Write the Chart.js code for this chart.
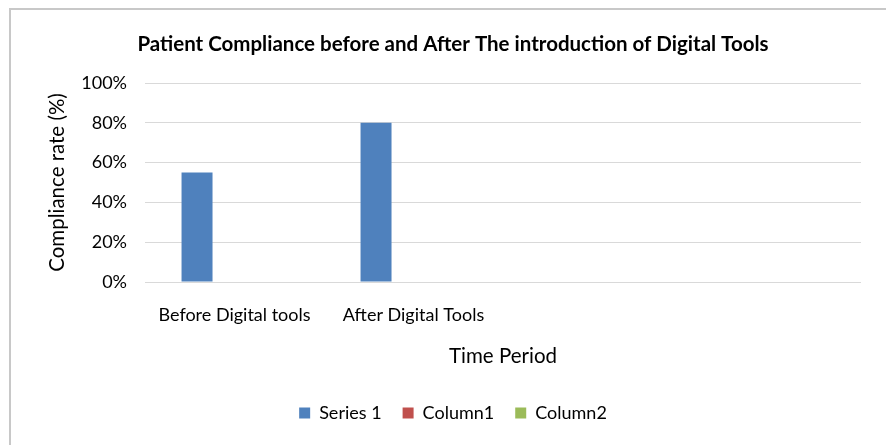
<!DOCTYPE html>
<html>
<head>
<meta charset="utf-8">
<script src="https://cdn.jsdelivr.net/npm/chart.js@4/dist/chart.umd.min.js"></script>
<style>
html,body{margin:0;padding:0;background:#fff;}
#wrap{width:886px;height:445px;position:relative;}
</style>
</head>
<body>
<div id="wrap"><canvas id="c" width="886" height="445"></canvas></div>
<script>
const categories = ["Before Digital tools", "After Digital Tools", "", ""];
const series1 = [55, 80, null, null];
const column1 = [null, null, null, null];
const column2 = [null, null, null, null];
const yTicks = [0, 20, 40, 60, 80, 100];

const FONT = "Lato, 'Open Sans', sans-serif";

const frame = {
  id: 'frame',
  beforeDraw(chart) {
    const ctx = chart.ctx;
    ctx.save();
    ctx.fillStyle = '#fff';
    ctx.fillRect(0, 0, chart.width, chart.height);
    ctx.strokeStyle = '#c8c8c8';
    ctx.lineWidth = 2;
    ctx.strokeRect(10, 9, 1000, 1000);
    ctx.restore();
  }
};

new Chart(document.getElementById('c'), {
  type: 'bar',
  data: {
    labels: categories,
    datasets: [
      {label: 'Series 1', data: series1, backgroundColor: '#4F81BD'},
      {label: 'Column1', data: column1, backgroundColor: '#C0504D'},
      {label: 'Column2', data: column2, backgroundColor: '#9BBB59'}
    ]
  },
  plugins: [frame],
  options: {
    responsive: false,
    animation: false,
    categoryPercentage: 0.628,
    barPercentage: 0.827,
    layout: {padding: {left: 45, right: 25, top: 0, bottom: 13}},
    plugins: {
      title: {
        display: true,
        text: 'Patient Compliance before and After The introduction of Digital Tools',
        color: '#000',
        font: {family: FONT, size: 20.5, weight: 'bold'},
        padding: {top: 31.7, bottom: 26.7}
      },
      legend: {
        position: 'bottom',
        labels: {
          color: '#000',
          font: {family: FONT, size: 18},
          boxWidth: 11, boxHeight: 11,
          padding: 21
        }
      },
      tooltip: {enabled: false}
    },
    scales: {
      x: {
        grid: {display: false, drawTicks: false},
        border: {display: false},
        ticks: {color: '#000', font: {family: FONT, size: 18}, padding: 22, maxRotation: 0, autoSkip: false},
        title: {display: true, text: 'Time Period', color: '#000', font: {family: FONT, size: 20.5}, padding: {top: 0, bottom: 14.7}},
        afterFit(s) { s.height = 101; }
      },
      y: {
        min: 0, max: 100,
        afterBuildTicks(s) { s.ticks = yTicks.map(v => ({value: v})); },
        grid: {color: '#d9d9d9', lineWidth: 1, drawTicks: false},
        border: {display: false},
        ticks: {color: '#000', font: {family: FONT, size: 18}, padding: 18, callback: v => v + '%'},
        title: {display: true, text: 'Compliance rate (%)', color: '#000', font: {family: FONT, size: 20.5}, padding: 0},
        afterFit(s) { s.width = 100; }
      }
    }
  }
});
</script>
</body>
</html>
